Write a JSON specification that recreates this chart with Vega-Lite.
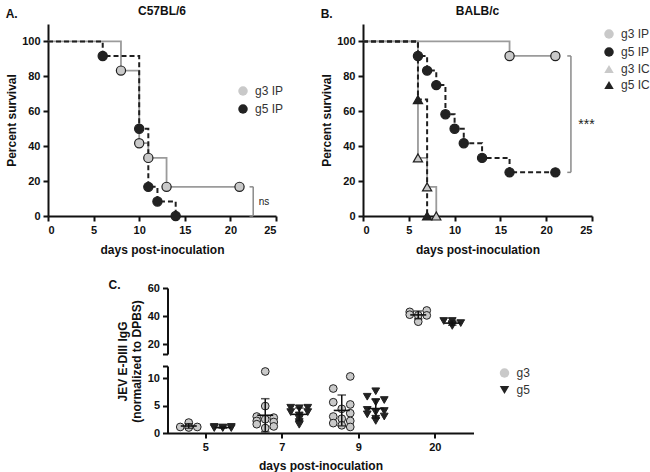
{
  "$schema": "https://vega.github.io/schema/vega-lite/v6.json",
  "background": "white",
  "padding": {"left": 5, "top": 5, "right": 0, "bottom": 5},
  "config": {
    "font": "Liberation Sans",
    "view": {"stroke": null},
    "axis": {"domainColor": "#111", "domainWidth": 2, "tickColor": "#111", "tickWidth": 2, "tickSize": 5, "labelFont": "Liberation Sans", "labelFontSize": 11, "labelFontWeight": "bold", "labelColor": "#111", "titleFont": "Liberation Sans", "titleFontSize": 12, "titleFontWeight": "bold", "titleColor": "#111", "grid": false, "labelPadding": 3},
    "title": {"font": "Liberation Sans", "fontSize": 12, "fontWeight": "bold", "color": "#111"},
    "legend": {"labelFont": "Liberation Sans", "labelFontSize": 12, "labelColor": "#333", "symbolStrokeColor": "#222", "symbolStrokeWidth": 1.2, "symbolSize": 90, "rowPadding": 2, "labelOffset": 6}
  },
  "datasets": {
    "survA": [
      {"grp": "g3 IP", "day": 0, "surv": 100},
      {"grp": "g3 IP", "day": 8, "surv": 83.3},
      {"grp": "g3 IP", "day": 10, "surv": 41.7},
      {"grp": "g3 IP", "day": 11, "surv": 33.3},
      {"grp": "g3 IP", "day": 13, "surv": 16.7},
      {"grp": "g3 IP", "day": 21, "surv": 16.7},
      {"grp": "g5 IP", "day": 0, "surv": 100},
      {"grp": "g5 IP", "day": 6, "surv": 91.7},
      {"grp": "g5 IP", "day": 10, "surv": 50},
      {"grp": "g5 IP", "day": 11, "surv": 16.7},
      {"grp": "g5 IP", "day": 12, "surv": 8.3},
      {"grp": "g5 IP", "day": 14, "surv": 0}
    ],
    "survB": [
      {"grp": "g3 IP", "day": 0, "surv": 100},
      {"grp": "g3 IP", "day": 16, "surv": 91.7},
      {"grp": "g3 IP", "day": 21, "surv": 91.7},
      {"grp": "g5 IP", "day": 0, "surv": 100},
      {"grp": "g5 IP", "day": 6, "surv": 91.7},
      {"grp": "g5 IP", "day": 7, "surv": 83.3},
      {"grp": "g5 IP", "day": 8, "surv": 75},
      {"grp": "g5 IP", "day": 9, "surv": 58.3},
      {"grp": "g5 IP", "day": 10, "surv": 50},
      {"grp": "g5 IP", "day": 11, "surv": 41.7},
      {"grp": "g5 IP", "day": 13, "surv": 33.3},
      {"grp": "g5 IP", "day": 16, "surv": 25},
      {"grp": "g5 IP", "day": 21, "surv": 25},
      {"grp": "g3 IC", "day": 0, "surv": 100},
      {"grp": "g3 IC", "day": 6, "surv": 33.3},
      {"grp": "g3 IC", "day": 7, "surv": 16.7},
      {"grp": "g3 IC", "day": 8, "surv": 0},
      {"grp": "g5 IC", "day": 0, "surv": 100},
      {"grp": "g5 IC", "day": 6, "surv": 66.7},
      {"grp": "g5 IC", "day": 7, "surv": 0}
    ],
    "igg": [
      {"day": 5, "grp": "g3", "lane": "g3a", "v": 1.1},
      {"day": 5, "grp": "g3", "lane": "g3", "v": 1.9},
      {"day": 5, "grp": "g3", "lane": "g3b", "v": 1.1},
      {"day": 5, "grp": "g3", "lane": "g3", "v": 1.0},
      {"day": 5, "grp": "g5", "lane": "g5a", "v": 1.1},
      {"day": 5, "grp": "g5", "lane": "g5", "v": 1.0},
      {"day": 5, "grp": "g5", "lane": "g5b", "v": 1.1},
      {"day": 5, "grp": "g5", "lane": "g5a", "v": 0.9},
      {"day": 5, "grp": "g5", "lane": "g5", "v": 0.9},
      {"day": 5, "grp": "g5", "lane": "g5b", "v": 0.9},
      {"day": 7, "grp": "g3", "lane": "g3", "v": 11.2},
      {"day": 7, "grp": "g3", "lane": "g3", "v": 4.9},
      {"day": 7, "grp": "g3", "lane": "g3a", "v": 3.0},
      {"day": 7, "grp": "g3", "lane": "g3b", "v": 2.8},
      {"day": 7, "grp": "g3", "lane": "g3", "v": 2.5},
      {"day": 7, "grp": "g3", "lane": "g3a", "v": 2.2},
      {"day": 7, "grp": "g3", "lane": "g3b", "v": 2.0},
      {"day": 7, "grp": "g3", "lane": "g3a", "v": 1.6},
      {"day": 7, "grp": "g3", "lane": "g3b", "v": 1.2},
      {"day": 7, "grp": "g3", "lane": "g3", "v": 0.9},
      {"day": 7, "grp": "g5", "lane": "g5a", "v": 4.6},
      {"day": 7, "grp": "g5", "lane": "g5b", "v": 4.6},
      {"day": 7, "grp": "g5", "lane": "g5", "v": 4.5},
      {"day": 7, "grp": "g5", "lane": "g5a", "v": 3.8},
      {"day": 7, "grp": "g5", "lane": "g5b", "v": 3.8},
      {"day": 7, "grp": "g5", "lane": "g5", "v": 3.2},
      {"day": 7, "grp": "g5", "lane": "g5", "v": 2.6},
      {"day": 7, "grp": "g5", "lane": "g5", "v": 2.0},
      {"day": 7, "grp": "g5", "lane": "g5", "v": 1.5},
      {"day": 9, "grp": "g3", "lane": "g3b", "v": 10.3},
      {"day": 9, "grp": "g3", "lane": "g3a", "v": 8.1},
      {"day": 9, "grp": "g3", "lane": "g3a", "v": 5.6},
      {"day": 9, "grp": "g3", "lane": "g3b", "v": 5.2},
      {"day": 9, "grp": "g3", "lane": "g3", "v": 4.4},
      {"day": 9, "grp": "g3", "lane": "g3b", "v": 3.6},
      {"day": 9, "grp": "g3", "lane": "g3a", "v": 3.0},
      {"day": 9, "grp": "g3", "lane": "g3", "v": 2.6},
      {"day": 9, "grp": "g3", "lane": "g3b", "v": 2.2},
      {"day": 9, "grp": "g3", "lane": "g3a", "v": 1.8},
      {"day": 9, "grp": "g3", "lane": "g3", "v": 1.4},
      {"day": 9, "grp": "g3", "lane": "g3b", "v": 1.1},
      {"day": 9, "grp": "g5", "lane": "g5", "v": 7.6},
      {"day": 9, "grp": "g5", "lane": "g5a", "v": 6.6},
      {"day": 9, "grp": "g5", "lane": "g5b", "v": 6.0},
      {"day": 9, "grp": "g5", "lane": "g5", "v": 5.6},
      {"day": 9, "grp": "g5", "lane": "g5a", "v": 4.2},
      {"day": 9, "grp": "g5", "lane": "g5b", "v": 4.0},
      {"day": 9, "grp": "g5", "lane": "g5", "v": 3.8},
      {"day": 9, "grp": "g5", "lane": "g5a", "v": 3.4},
      {"day": 9, "grp": "g5", "lane": "g5b", "v": 3.0},
      {"day": 9, "grp": "g5", "lane": "g5", "v": 2.6},
      {"day": 9, "grp": "g5", "lane": "g5", "v": 2.2},
      {"day": 20, "grp": "g3", "lane": "g3a", "v": 43.0},
      {"day": 20, "grp": "g3", "lane": "g3b", "v": 44.0},
      {"day": 20, "grp": "g3", "lane": "g3a", "v": 41.0},
      {"day": 20, "grp": "g3", "lane": "g3", "v": 40.5},
      {"day": 20, "grp": "g3", "lane": "g3b", "v": 40.5},
      {"day": 20, "grp": "g3", "lane": "g3", "v": 36.0},
      {"day": 20, "grp": "g5", "lane": "g5a", "v": 36.5},
      {"day": 20, "grp": "g5", "lane": "g5", "v": 36.5},
      {"day": 20, "grp": "g5", "lane": "g5b", "v": 35.0},
      {"day": 20, "grp": "g5", "lane": "g5", "v": 34.0},
      {"day": 20, "grp": "g5", "lane": "g5", "v": 33.0}
    ]
  },
  "vconcat": [
    {
      "hconcat": [
        {
          "title": {"text": "A.", "anchor": "start", "offset": 0, "dy": 16},
          "vconcat": [
            {
              "width": 228,
              "height": 192,
              "title": {"text": "C57BL/6", "offset": 6},
              "layer": [
                {
                  "data": {"name": "survA"},
                  "encoding": {
                    "x": {"field": "day", "type": "quantitative", "scale": {"domain": [0, 25], "nice": false}, "axis": {"values": [0, 5, 10, 15, 20, 25], "title": "days post-inoculation", "titlePadding": 9, "labelOverlap": false}},
                    "y": {"field": "surv", "type": "quantitative", "scale": {"domain": [0, 110], "nice": false}, "axis": {"values": [0, 20, 40, 60, 80, 100], "title": "Percent survival", "titlePadding": 3, "labelOverlap": false}}
                  },
                  "layer": [
                    {
                      "transform": [{"filter": "datum.grp == 'g3 IP'"}],
                      "mark": {"type": "line", "interpolate": "step-after", "strokeWidth": 1.8, "color": "#9b9b9b"},
                      "encoding": {}
                    },
                    {
                      "transform": [{"filter": "datum.grp == 'g5 IP'"}],
                      "mark": {"type": "line", "interpolate": "step-after", "strokeWidth": 2, "color": "#1f1f1f", "strokeDash": [5, 3]},
                      "encoding": {}
                    },
                    {
                      "transform": [{"filter": "datum.day > 0"}],
                      "mark": {"type": "point", "filled": true, "size": 85, "stroke": "#1f1f1f", "strokeWidth": 1.2, "opacity": 1},
                      "encoding": {
                        "fill": {"field": "grp", "type": "nominal", "scale": {"domain": ["g3 IP", "g5 IP"], "range": ["#c9c9c9", "#222222"]}, "legend": {"title": null, "orient": "none", "legendX": 189, "legendY": 61}},
                        "shape": {"field": "grp", "type": "nominal", "scale": {"domain": ["g3 IP", "g5 IP"], "range": ["circle", "circle"]}, "legend": {"title": null, "orient": "none", "legendX": 189, "legendY": 61}}
                      }
                    }
                  ]
                },
                {
                  "data": {"values": [{}]},
                  "mark": {"type": "rule", "color": "#8a8a8a", "strokeWidth": 1.5},
                  "encoding": {
                    "x": {"datum": 22.5, "type": "quantitative", "axis": {"values": [0, 5, 10, 15, 20, 25], "title": "days post-inoculation", "titlePadding": 9, "labelOverlap": false}},
                    "y": {"datum": 0, "type": "quantitative", "axis": {"values": [0, 20, 40, 60, 80, 100], "title": "Percent survival", "titlePadding": 3, "labelOverlap": false}},
                    "y2": {"datum": 16.7}
                  }
                },
                {
                  "data": {"values": [{"cap": 0}, {"cap": 16.7}]},
                  "mark": {"type": "rule", "color": "#8a8a8a", "strokeWidth": 1.5},
                  "encoding": {
                    "x": {"datum": 22.1, "type": "quantitative", "axis": {"values": [0, 5, 10, 15, 20, 25], "title": "days post-inoculation", "titlePadding": 9, "labelOverlap": false}},
                    "x2": {"datum": 22.5},
                    "y": {"field": "cap", "type": "quantitative", "axis": {"values": [0, 20, 40, 60, 80, 100], "title": "Percent survival", "titlePadding": 3, "labelOverlap": false}}
                  }
                },
                {
                  "data": {"values": [{}]},
                  "mark": {"type": "text", "align": "left", "baseline": "middle", "fontSize": 10, "color": "#222"},
                  "encoding": {
                    "x": {"datum": 23.1, "type": "quantitative", "axis": {"values": [0, 5, 10, 15, 20, 25], "title": "days post-inoculation", "titlePadding": 9, "labelOverlap": false}},
                    "y": {"datum": 8.3, "type": "quantitative", "axis": {"values": [0, 20, 40, 60, 80, 100], "title": "Percent survival", "titlePadding": 3, "labelOverlap": false}},
                    "text": {"value": "ns"}
                  }
                }
              ]
            }
          ]
        },
        {
          "title": {"text": "B.", "anchor": "start", "offset": 0, "dy": 16},
          "vconcat": [
            {
              "width": 229,
              "height": 192,
              "title": {"text": "BALB/c", "offset": 6},
              "layer": [
                {
                  "data": {"name": "survB"},
                  "encoding": {
                    "x": {"field": "day", "type": "quantitative", "scale": {"domain": [0, 25], "nice": false}, "axis": {"values": [0, 5, 10, 15, 20, 25], "title": "days post-inoculation", "titlePadding": 9, "labelOverlap": false}},
                    "y": {"field": "surv", "type": "quantitative", "scale": {"domain": [0, 110], "nice": false}, "axis": {"values": [0, 20, 40, 60, 80, 100], "title": "Percent survival", "titlePadding": 3, "labelOverlap": false}}
                  },
                  "layer": [
                    {
                      "transform": [{"filter": "datum.grp == 'g3 IP' || datum.grp == 'g3 IC'"}],
                      "mark": {"type": "line", "interpolate": "step-after", "strokeWidth": 1.8, "color": "#9b9b9b"},
                      "encoding": {"detail": {"field": "grp"}}
                    },
                    {
                      "transform": [{"filter": "datum.grp == 'g5 IP' || datum.grp == 'g5 IC'"}],
                      "mark": {"type": "line", "interpolate": "step-after", "strokeWidth": 2, "color": "#1f1f1f", "strokeDash": [5, 3]},
                      "encoding": {"detail": {"field": "grp"}}
                    },
                    {
                      "transform": [{"filter": "datum.day > 0"}],
                      "mark": {"type": "point", "filled": true, "size": 85, "stroke": "#1f1f1f", "strokeWidth": 1.2, "opacity": 1},
                      "encoding": {
                        "fill": {"field": "grp", "type": "nominal", "scale": {"domain": ["g3 IP", "g5 IP", "g3 IC", "g5 IC"], "range": ["#c9c9c9", "#222222", "#c9c9c9", "#222222"]}, "legend": {"title": null, "orient": "none", "legendX": 240, "legendY": 4}},
                        "shape": {"field": "grp", "type": "nominal", "scale": {"domain": ["g3 IP", "g5 IP", "g3 IC", "g5 IC"], "range": ["circle", "circle", "triangle-up", "triangle-up"]}, "legend": {"title": null, "orient": "none", "legendX": 240, "legendY": 4}}
                      }
                    }
                  ]
                },
                {
                  "data": {"values": [{}]},
                  "mark": {"type": "rule", "color": "#8a8a8a", "strokeWidth": 1.5},
                  "encoding": {
                    "x": {"datum": 22.7, "type": "quantitative", "axis": {"values": [0, 5, 10, 15, 20, 25], "title": "days post-inoculation", "titlePadding": 9, "labelOverlap": false}},
                    "y": {"datum": 25, "type": "quantitative", "axis": {"values": [0, 20, 40, 60, 80, 100], "title": "Percent survival", "titlePadding": 3, "labelOverlap": false}},
                    "y2": {"datum": 91.7}
                  }
                },
                {
                  "data": {"values": [{"cap": 25}, {"cap": 91.7}]},
                  "mark": {"type": "rule", "color": "#8a8a8a", "strokeWidth": 1.5},
                  "encoding": {
                    "x": {"datum": 22.3, "type": "quantitative", "axis": {"values": [0, 5, 10, 15, 20, 25], "title": "days post-inoculation", "titlePadding": 9, "labelOverlap": false}},
                    "x2": {"datum": 22.7},
                    "y": {"field": "cap", "type": "quantitative", "axis": {"values": [0, 20, 40, 60, 80, 100], "title": "Percent survival", "titlePadding": 3, "labelOverlap": false}}
                  }
                },
                {
                  "data": {"values": [{}]},
                  "mark": {"type": "text", "align": "left", "baseline": "middle", "fontSize": 14, "color": "#222"},
                  "encoding": {
                    "x": {"datum": 23.5, "type": "quantitative", "axis": {"values": [0, 5, 10, 15, 20, 25], "title": "days post-inoculation", "titlePadding": 9, "labelOverlap": false}},
                    "y": {"datum": 52, "type": "quantitative", "axis": {"values": [0, 20, 40, 60, 80, 100], "title": "Percent survival", "titlePadding": 3, "labelOverlap": false}},
                    "text": {"value": "***"}
                  }
                }
              ]
            }
          ]
        }
      ],
      "spacing": 36,
      "resolve": {"scale": {"fill": "independent", "shape": "independent"}}
    },
    {
      "title": {"text": "C.", "anchor": "start", "dx": -8, "dy": 14},
      "data": {"name": "igg"},
      "vconcat": [
        {
          "width": 306,
          "height": 66,
          "transform": [{"filter": "datum.v > 13"}],
          "encoding": {
            "x": {"field": "day", "type": "ordinal", "scale": {"domain": [5, 7, 9, 20], "paddingInner": 0, "paddingOuter": 0}, "axis": null},
            "y": {"field": "v", "type": "quantitative", "scale": {"domain": [13, 60], "nice": false, "zero": false}, "axis": {"values": [13, 20, 40, 60], "title": null, "labelOverlap": false, "labelExpr": "datum.value == 13 ? '' : datum.label"}}
          },
          "layer": [
            {
              "mark": {"type": "point", "filled": true, "size": 60, "stroke": "#222", "strokeWidth": 1, "opacity": 1},
              "encoding": {
                "xOffset": {"field": "lane", "type": "nominal", "scale": {"domain": ["g3a", "g3", "g3b", "gap", "g5a", "g5", "g5b"], "paddingInner": 0, "paddingOuter": 1.78}},
                "fill": {"field": "grp", "type": "nominal", "scale": {"domain": ["g3", "g5"], "range": ["#c9c9c9", "#222222"]}, "legend": {"title": null, "orient": "none", "legendX": 331, "legendY": 79}},
                "shape": {"field": "grp", "type": "nominal", "scale": {"domain": ["g3", "g5"], "range": ["circle", "triangle-down"]}, "legend": {"title": null, "orient": "none", "legendX": 331, "legendY": 79}}
              }
            },
            {
              "mark": {"type": "errorbar", "extent": "stdev", "ticks": true, "color": "#111", "thickness": 1.5},
              "encoding": {
                "xOffset": {"field": "grp", "type": "nominal"},
                "y": {"field": "v", "type": "quantitative", "title": null}
              }
            },
            {
              "mark": {"type": "tick", "color": "#111", "thickness": 1.6, "size": 16},
              "encoding": {
                "xOffset": {"field": "grp", "type": "nominal"},
                "y": {"aggregate": "mean", "field": "v", "type": "quantitative", "title": null}
              }
            }
          ]
        },
        {
          "width": 306,
          "height": 67,
          "transform": [{"filter": "datum.v <= 13"}],
          "encoding": {
            "x": {"field": "day", "type": "ordinal", "scale": {"domain": [5, 7, 9, 20], "paddingInner": 0, "paddingOuter": 0}, "axis": {"title": "days post-inoculation", "labelAngle": 0, "titlePadding": 8}},
            "y": {"field": "v", "type": "quantitative", "title": ["JEV E-DIII IgG", "(normalized to DPBS)"], "scale": {"domain": [0, 12.2], "nice": false}, "axis": {"values": [0, 5, 10, 12.2], "titleX": -38, "titleY": -5, "titleAngle": 270, "titleAlign": "center", "titleBaseline": "bottom", "labelOverlap": false, "labelExpr": "datum.value > 12 ? '' : datum.label"}}
          },
          "layer": [
            {
              "mark": {"type": "point", "filled": true, "size": 60, "stroke": "#222", "strokeWidth": 1, "opacity": 1},
              "encoding": {
                "xOffset": {"field": "lane", "type": "nominal", "scale": {"domain": ["g3a", "g3", "g3b", "gap", "g5a", "g5", "g5b"], "paddingInner": 0, "paddingOuter": 1.78}},
                "fill": {"field": "grp", "type": "nominal", "scale": {"domain": ["g3", "g5"], "range": ["#c9c9c9", "#222222"]}, "legend": {"title": null, "orient": "none", "legendX": 331, "legendY": 79}},
                "shape": {"field": "grp", "type": "nominal", "scale": {"domain": ["g3", "g5"], "range": ["circle", "triangle-down"]}, "legend": {"title": null, "orient": "none", "legendX": 331, "legendY": 79}}
              }
            },
            {
              "mark": {"type": "errorbar", "extent": "stdev", "ticks": true, "color": "#111", "thickness": 1.5},
              "encoding": {
                "xOffset": {"field": "grp", "type": "nominal"},
                "y": {"field": "v", "type": "quantitative", "title": ["JEV E-DIII IgG", "(normalized to DPBS)"]}
              }
            },
            {
              "mark": {"type": "tick", "color": "#111", "thickness": 1.6, "size": 16},
              "encoding": {
                "xOffset": {"field": "grp", "type": "nominal"},
                "y": {"aggregate": "mean", "field": "v", "type": "quantitative", "title": ["JEV E-DIII IgG", "(normalized to DPBS)"]}
              }
            }
          ]
        }
      ],
      "spacing": 12,
      "bounds": "flush"
    }
  ],
  "spacing": 24,
  "center": true,
  "resolve": {"scale": {"fill": "independent", "shape": "independent"}}
}
